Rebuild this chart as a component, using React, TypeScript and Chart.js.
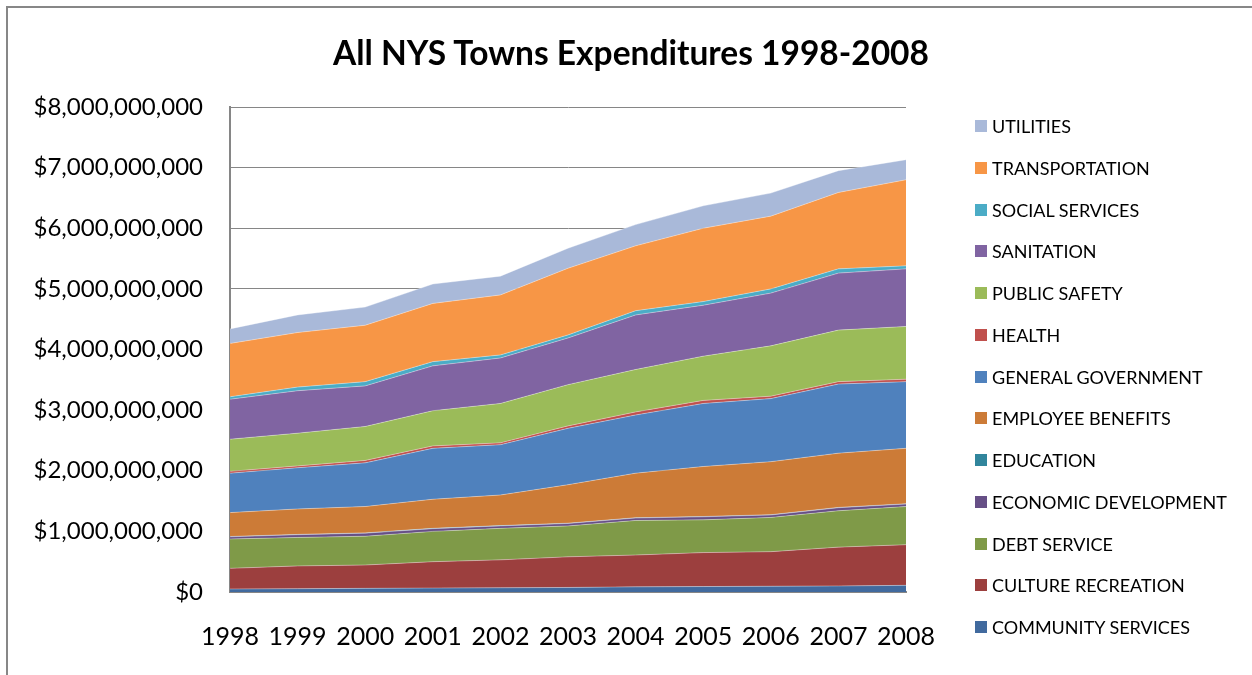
import React, { useEffect, useRef } from "react";
import { Chart, registerables } from "chart.js";

Chart.register(...registerables);

const title = "All NYS Towns Expenditures 1998-2008";
const years = ["1998", "1999", "2000", "2001", "2002", "2003", "2004", "2005", "2006", "2007", "2008"];

// Values in dollars (stack order: bottom to top)
const communityServices = [50e6, 55e6, 60e6, 65e6, 70e6, 75e6, 85e6, 90e6, 95e6, 100e6, 110e6];
const cultureRecreation = [340e6, 375e6, 385e6, 435e6, 460e6, 505e6, 525e6, 560e6, 570e6, 640e6, 670e6];
const debtService = [485e6, 470e6, 475e6, 500e6, 520e6, 510e6, 570e6, 540e6, 565e6, 600e6, 630e6];
const economicDevelopment = [35e6, 45e6, 50e6, 45e6, 40e6, 40e6, 40e6, 50e6, 40e6, 50e6, 40e6];
const education = [5e6, 5e6, 5e6, 5e6, 5e6, 5e6, 5e6, 5e6, 5e6, 5e6, 5e6];
const employeeBenefits = [395e6, 420e6, 435e6, 480e6, 505e6, 635e6, 735e6, 825e6, 875e6, 895e6, 915e6];
const generalGovernment = [650e6, 680e6, 720e6, 840e6, 830e6, 930e6, 960e6, 1040e6, 1040e6, 1140e6, 1100e6];
const health = [30e6, 30e6, 40e6, 40e6, 30e6, 40e6, 50e6, 50e6, 40e6, 40e6, 40e6];
const publicSafety = [530e6, 540e6, 560e6, 580e6, 650e6, 680e6, 700e6, 730e6, 830e6, 850e6, 870e6];
const sanitation = [660e6, 700e6, 670e6, 740e6, 750e6, 770e6, 900e6, 840e6, 870e6, 940e6, 950e6];
const socialServices = [40e6, 60e6, 70e6, 70e6, 50e6, 50e6, 70e6, 60e6, 70e6, 70e6, 50e6];
const transportation = [880e6, 900e6, 930e6, 960e6, 990e6, 1100e6, 1070e6, 1210e6, 1200e6, 1260e6, 1420e6];
const utilities = [240e6, 290e6, 300e6, 320e6, 310e6, 330e6, 350e6, 370e6, 380e6, 360e6, 330e6];

const seriesNames = [
  "COMMUNITY SERVICES",
  "CULTURE RECREATION",
  "DEBT SERVICE",
  "ECONOMIC DEVELOPMENT",
  "EDUCATION",
  "EMPLOYEE BENEFITS",
  "GENERAL GOVERNMENT",
  "HEALTH",
  "PUBLIC SAFETY",
  "SANITATION",
  "SOCIAL SERVICES",
  "TRANSPORTATION",
  "UTILITIES",
];
const seriesValues = [
  communityServices,
  cultureRecreation,
  debtService,
  economicDevelopment,
  education,
  employeeBenefits,
  generalGovernment,
  health,
  publicSafety,
  sanitation,
  socialServices,
  transportation,
  utilities,
];
const seriesColors = [
  "#416A9E",
  "#9C3F3E",
  "#7F9A48",
  "#664F86",
  "#31859C",
  "#CC7B37",
  "#4F81BD",
  "#C0504D",
  "#9BBB59",
  "#8064A2",
  "#4BACC6",
  "#F79646",
  "#A9B9D9",
];

const FONT = "Lato, 'Open Sans', sans-serif";

export default function App() {
  const canvasRef = useRef<HTMLCanvasElement | null>(null);

  useEffect(() => {
    const canvas = canvasRef.current;
    if (!canvas) return;
    const chart = new Chart(canvas, {
      type: "line",
      data: {
        labels: years,
        datasets: seriesNames.map((name, i) => ({
          label: name,
          data: seriesValues[i],
          backgroundColor: seriesColors[i],
          borderColor: "rgba(255,255,255,0.35)",
          borderWidth: 1,
          fill: i === 0 ? "origin" : "-1",
          pointRadius: 0,
          pointHoverRadius: 0,
          tension: 0,
        })),
      },
      options: {
        responsive: false,
        animation: false,
        devicePixelRatio: 1,
        layout: { padding: { left: 0, right: 346, top: 107, bottom: 0 } },
        plugins: {
          legend: { display: false },
          tooltip: { enabled: false },
          title: { display: false },
        },
        scales: {
          x: {
            offset: false,
            grid: { display: false, drawTicks: false },
            border: { display: true, color: "#868686", width: 2 },
            ticks: {
              color: "#000",
              font: { family: FONT, size: 25 },
              padding: 30,
              maxRotation: 0,
              autoSkip: false,
            },
            afterFit: (s: any) => {
              s.height = 83;
            },
          },
          y: {
            stacked: true,
            min: 0,
            max: 8e9,
            ticks: {
              stepSize: 1e9,
              color: "#000",
              font: { family: FONT, size: 24 },
              padding: 27,
              callback: (v: any) => "$" + Number(v).toLocaleString("en-US"),
            },
            grid: { color: "#868686", lineWidth: 1, drawTicks: false },
            border: { display: true, color: "#868686", width: 2 },
            afterFit: (s: any) => {
              s.width = 230;
            },
          },
        },
      },
    });
    return () => chart.destroy();
  }, []);

  const legendItems = seriesNames.map((n, i) => ({ name: n, color: seriesColors[i] })).reverse();

  return (
    <div style={{ position: "absolute", left: 0, top: 0, width: 1252, height: 675, background: "#fff", overflow: "hidden" }}>
      <div
        style={{
          position: "absolute",
          left: 6,
          top: 6,
          width: 1260,
          height: 700,
          borderTop: "2px solid #878787",
          borderLeft: "2px solid #878787",
        }}
      />
      <canvas ref={canvasRef} width={1252} height={675} style={{ position: "absolute", left: 0, top: 0 }} />
      <div
        style={{
          position: "absolute",
          left: 0,
          top: 32,
          width: 1262,
          height: 40,
          lineHeight: "40px",
          textAlign: "center",
          fontFamily: FONT,
          fontWeight: "bold",
          fontSize: 33.5,
          color: "#000",
          whiteSpace: "nowrap",
        }}
      >
        {title}
      </div>
      {legendItems.map((it, i) => (
        <div
          key={it.name}
          style={{
            position: "absolute",
            left: 975,
            top: 116 + i * 41.75,
            height: 20,
            display: "flex",
            alignItems: "center",
            fontFamily: FONT,
            fontSize: 18,
            color: "#000",
            whiteSpace: "nowrap",
          }}
        >
          <span style={{ display: "inline-block", width: 12, height: 12, background: it.color, marginRight: 5 }} />
          <span>{it.name}</span>
        </div>
      ))}
    </div>
  );
}
